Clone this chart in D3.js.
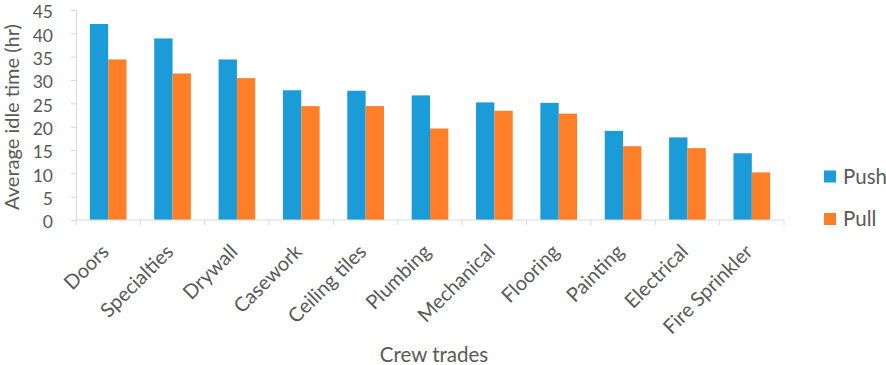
<!DOCTYPE html>
<html>
<head>
<meta charset="utf-8">
<script src="https://cdn.jsdelivr.net/npm/d3@7"></script>
<style>
  body { margin: 0; background: #fff; }
  text { font-family: Lato, "Open Sans", sans-serif; fill: #595959; }
</style>
</head>
<body>
<div id="chart"></div>
<script>
// Grouped bars: idle time per crew trade, push vs pull

const trades = ["Doors", "Specialties", "Drywall", "Casework", "Ceiling tiles", "Plumbing",
  "Mechanical", "Flooring", "Painting", "Electrical", "Fire Sprinkler"];
const push = [42.0, 38.9, 34.4, 27.8, 27.7, 26.7, 25.2, 25.1, 19.1, 17.7, 14.3];
const pull = [34.4, 31.4, 30.4, 24.4, 24.4, 19.6, 23.4, 22.8, 15.8, 15.4, 10.2];
const seriesNames = ["Push", "Pull"];
const yTicks = [0, 5, 10, 15, 20, 25, 30, 35, 40, 45];

const width = 886,
    height = 365,
    margin = ({ top: 10, right: 102, bottom: 145, left: 76 });

const colors = ["#1b9bd7", "#fe7f27"];

const svg = d3.select("#chart")
  .append("svg")
  .attr("width", width)
  .attr("height", height);

const x = d3.scaleBand()
  .domain(trades)
  .range([margin.left, width - margin.right])
  .paddingInner(0.43)
  .paddingOuter(0.215);

const xs = d3.scaleBand() // inside each group
  .domain(seriesNames)
  .range([0, x.bandwidth()]);

const y = d3.scaleLinear()
  .domain([0, 45])
  .range([height - margin.bottom, margin.top]);

const rows = trades.map((t, i) => ({ trade: t, values: [push[i], pull[i]] }));

// bars
svg.append("g")
  .selectAll("g")
  .data(rows)
  .join("g")
  .attr("transform", d => `translate(${x(d.trade)},0)`)
  .selectAll("rect")
  .data(d => d.values.map((v, k) => ({ name: seriesNames[k], v, k })))
  .join("rect")
  .attr("x", d => xs(d.name))
  .attr("width", xs.bandwidth())
  .attr("y", d => y(d.v))
  .attr("height", d => y(0) - y(d.v))
  .attr("fill", d => colors[d.k]);

// y axis
const yAxis = svg.append("g")
  .attr("transform", `translate(${margin.left},0)`)
  .call(d3.axisLeft(y).tickValues(yTicks).tickSize(5).tickPadding(18));
yAxis.select(".domain").attr("stroke", "#d9d9d9");
yAxis.selectAll(".tick line").attr("stroke", "#d9d9d9");
yAxis.selectAll(".tick text")
  .attr("font-size", 17.5)
  .attr("dy", "0.45em")
  .attr("fill", "#595959")
  .attr("font-family", "Lato, sans-serif");

// x axis line and boundary ticks
const step = x.step();
const xAxis = svg.append("g");
xAxis.append("line")
  .attr("x1", margin.left).attr("x2", width - margin.right)
  .attr("y1", y(0)).attr("y2", y(0))
  .attr("stroke", "#d9d9d9");
xAxis.selectAll("line.tk")
  .data(d3.range(trades.length + 1))
  .join("line")
  .attr("class", "tk")
  .attr("x1", i => margin.left + i * step)
  .attr("x2", i => margin.left + i * step)
  .attr("y1", y(0)).attr("y2", y(0) + 5)
  .attr("stroke", "#d9d9d9");

xAxis.selectAll("text")
  .data(trades)
  .join("text")
  .attr("text-anchor", "end")
  .attr("font-size", 20)
  .attr("transform", d => `translate(${x(d) + x.bandwidth() / 2 + 2},${y(0) + 33}) rotate(-45)`)
  .text(d => d);

// axis titles
svg.append("text")
  .attr("x", 434)
  .attr("y", 362)
  .attr("text-anchor", "middle")
  .attr("font-size", 20.5)
  .text("Crew trades");

svg.append("text")
  .attr("transform", `translate(19,${(y(0) + y(45)) / 2 + 2}) rotate(-90)`)
  .attr("text-anchor", "middle")
  .attr("font-size", 20)
  .text("Average idle time (hr)");

// legend
const legend = svg.append("g")
  .selectAll("g")
  .data(seriesNames)
  .join("g")
  .attr("transform", (d, i) => `translate(824,${170.5 + i * 42.5})`);
legend.append("rect")
  .attr("width", 12).attr("height", 12)
  .attr("fill", (d, i) => colors[i]);
legend.append("text")
  .attr("x", 19).attr("y", 13)
  .attr("font-size", 20.5)
  .text(d => d);
</script>
</body>
</html>
